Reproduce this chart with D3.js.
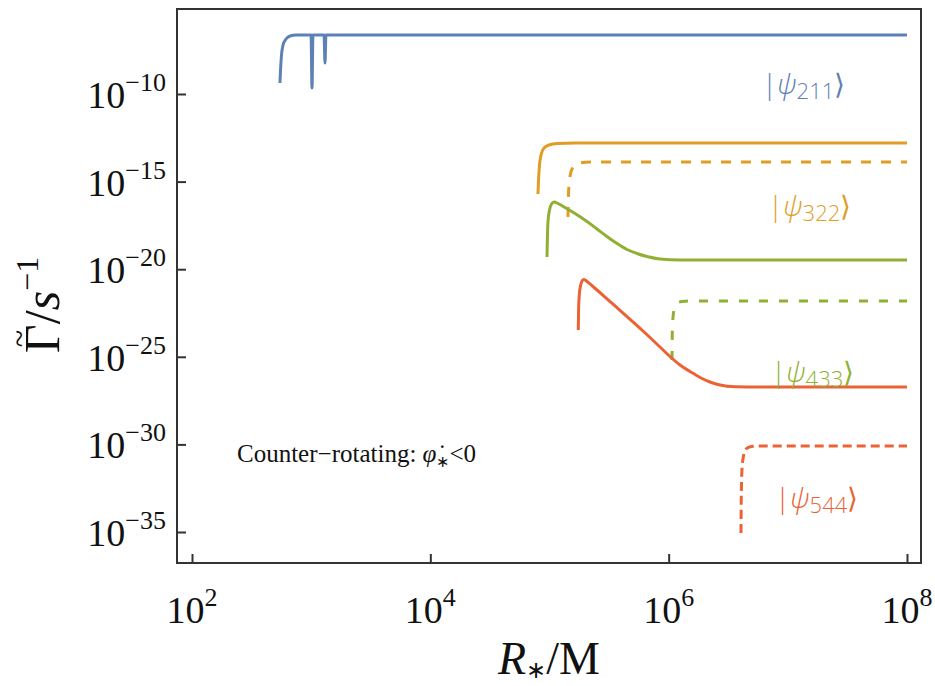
<!DOCTYPE html>
<html><head><meta charset="utf-8">
<script src="https://cdn.jsdelivr.net/npm/d3@7"></script>
<style>body{margin:0;background:#fff}</style>
</head><body>
<svg id="chart" width="935" height="686"></svg>
<script>
// ---- data, stored as log10 values ----
const xTickExponents = [2, 4, 6, 8];
const yTickExponents = [-10, -15, -20, -25, -30, -35];

// |psi_211>  solid blue
const blueLogR = [2.738, 2.743, 2.751, 2.764, 2.789, 2.822, 2.873, 2.999, 3.007, 3.015, 3.108, 3.116, 3.124, 8.0];
const blueLogG = [-9.372, -8.630, -7.774, -7.203, -6.861, -6.689, -6.632, -6.632, -9.658, -6.632, -6.632, -8.231, -6.632, -6.632];

// |psi_322>  solid orange
const orangeLogR = [4.903, 4.908, 4.916, 4.929, 4.954, 4.996, 5.063, 5.214, 8.0];
const orangeLogG = [-15.708, -14.909, -14.053, -13.482, -13.082, -12.911, -12.825, -12.797, -12.797];
// |psi_322>  dashed orange
const orangeDashLogR = [5.155, 5.159, 5.168, 5.180, 5.206, 5.247, 5.340, 8.0];
const orangeDashLogG = [-17.021, -15.765, -14.909, -14.452, -14.110, -13.938, -13.881, -13.881];

// |psi_433>  solid green
const greenLogR = [4.979, 4.982, 4.987, 5.000, 5.017, 5.038, 5.071, 5.130, 5.214, 5.315, 5.399, 5.482, 5.566, 5.650, 5.734, 5.818, 5.927, 6.095, 8.0];
const greenLogG = [-19.304, -18.333, -17.306, -16.621, -16.279, -16.164, -16.250, -16.478, -16.821, -17.278, -17.706, -18.134, -18.533, -18.876, -19.104, -19.276, -19.418, -19.475, -19.475];
// |psi_433>  dashed green
const greenDashLogR = [6.028, 6.030, 6.036, 6.049, 6.070, 6.112, 6.179, 8.0];
const greenDashLogG = [-25.183, -23.756, -22.785, -22.215, -21.929, -21.844, -21.815, -21.815];

// |psi_544>  solid red
const redLogR = [5.2416, 5.244, 5.250, 5.260, 5.273, 5.289, 5.315, 5.365, 5.508, 5.650, 5.785, 5.927, 6.011, 6.095, 6.179, 6.263, 6.347, 6.431, 6.557, 6.766, 8.0];
const redLogG = [-23.470, -22.329, -21.473, -20.959, -20.674, -20.588, -20.702, -20.988, -21.844, -22.700, -23.527, -24.441, -24.983, -25.468, -25.839, -26.182, -26.438, -26.610, -26.707, -26.724, -26.724];
// |psi_544>  dashed red
const redDashLogR = [6.607, 6.609, 6.615, 6.628, 6.649, 6.691, 6.766, 8.0];
const redDashLogG = [-35.057, -33.174, -31.461, -30.662, -30.263, -30.120, -30.091, -30.091];

const stateLabels = ["211", "322", "433", "544"];
const colors = ["#5E81B5", "#E19C24", "#8FB032", "#EB6235"];

// ---- chart ----
const svg = d3.select("#chart");
const plot = {left: 177, right: 921, top: 9, bottom: 563};

const x = d3.scaleLog().domain([1e2, 1e8]).range([192, 907]);
const y = d3.scaleLog().domain([1e-10, 1e-35]).range([94, 532]);

const series = [
  {r: blueLogR, g: blueLogG, color: colors[0], dash: null},
  {r: orangeLogR, g: orangeLogG, color: colors[1], dash: null},
  {r: orangeDashLogR, g: orangeDashLogG, color: colors[1], dash: "10,10"},
  {r: greenLogR, g: greenLogG, color: colors[2], dash: null},
  {r: greenDashLogR, g: greenDashLogG, color: colors[2], dash: "9,11"},
  {r: redLogR, g: redLogG, color: colors[3], dash: null},
  {r: redDashLogR, g: redDashLogG, color: colors[3], dash: "9,5"}
];

const line = d3.line()
  .x(d => x(Math.pow(10, d[0])))
  .y(d => y(Math.pow(10, d[1])))
  .curve(d3.curveMonotoneX);

svg.append("defs").append("clipPath").attr("id", "clip")
  .append("rect").attr("x", plot.left).attr("y", plot.top)
  .attr("width", plot.right - plot.left).attr("height", plot.bottom - plot.top);

const lines = svg.append("g").attr("clip-path", "url(#clip)");
series.forEach(s => {
  const pts = s.r.map((v, i) => [v, s.g[i]]);
  lines.append("path")
    .attr("d", line(pts))
    .attr("fill", "none")
    .attr("stroke", s.color)
    .attr("stroke-width", 3)
    .attr("stroke-linejoin", "round")
    .attr("stroke-dasharray", s.dash);
});

// frame
svg.append("rect")
  .attr("x", plot.left).attr("y", plot.top)
  .attr("width", plot.right - plot.left).attr("height", plot.bottom - plot.top)
  .attr("fill", "none").attr("stroke", "#333").attr("stroke-width", 2);

// axes ticks (inward)
const yAxis = svg.append("g").attr("transform", `translate(${plot.left},0)`)
  .call(d3.axisLeft(y).tickValues(yTickExponents.map(e => Math.pow(10, e))).tickSize(-9).tickFormat(""));
const xAxis = svg.append("g").attr("transform", `translate(0,${plot.bottom})`)
  .call(d3.axisBottom(x).tickValues(xTickExponents.map(e => Math.pow(10, e))).tickSize(-9).tickFormat(""));
[yAxis, xAxis].forEach(a => {
  a.select(".domain").remove();
  a.selectAll("line").attr("stroke", "#333").attr("stroke-width", 2);
});

const serif = "'Liberation Serif', 'Times New Roman', serif";

// y tick labels
yTickExponents.forEach(e => {
  const t = svg.append("text")
    .attr("x", 166).attr("y", y(Math.pow(10, e)) + 14)
    .attr("text-anchor", "end")
    .attr("font-family", serif).attr("font-size", 38).attr("fill", "#111");
  t.append("tspan").text("10");
  t.append("tspan").attr("dy", -17).attr("font-size", 26).text("\u2212" + Math.abs(e));
});

// x tick labels
xTickExponents.forEach(e => {
  const t = svg.append("text")
    .attr("x", x(Math.pow(10, e))).attr("y", 623)
    .attr("text-anchor", "middle")
    .attr("font-family", serif).attr("font-size", 38).attr("fill", "#111");
  t.append("tspan").text("10");
  t.append("tspan").attr("dy", -17).attr("font-size", 26).text(String(e));
});

// x axis title
{
  const t = svg.append("text")
    .attr("x", (plot.left + plot.right) / 2).attr("y", 674)
    .attr("text-anchor", "middle")
    .attr("font-family", serif).attr("font-size", 46).attr("fill", "#111");
  t.append("tspan").attr("font-style", "italic").text("R");
  t.append("tspan").attr("dy", 4).attr("font-size", 24).text("\u2217");
  t.append("tspan").attr("dy", -4).text("/M");
}

// y axis title (rotated); tilde placed over Gamma
{
  const cy = 305;
  const g = svg.append("g").attr("transform", `translate(59,${cy}) rotate(-90)`);
  const t = g.append("text")
    .attr("x", 0).attr("y", 0)
    .attr("font-family", serif).attr("font-size", 50).attr("fill", "#111");
  const gam = t.append("tspan").text("\u0393");
  t.append("tspan").text("/");
  t.append("tspan").attr("font-style", "italic").text("s");
  t.append("tspan").attr("dy", -21).attr("font-size", 32).text("\u22121");
  const total = t.node().getComputedTextLength();
  const gw = gam.node().getComputedTextLength();
  t.attr("x", -total / 2);
  g.append("text")
    .attr("x", -total / 2 + gw / 2).attr("y", -29)
    .attr("text-anchor", "middle")
    .attr("font-family", serif).attr("font-size", 32).attr("fill", "#111")
    .text("~");
}

// annotation
{
  const t = svg.append("text")
    .attr("x", 237).attr("y", 462)
    .attr("font-family", serif).attr("font-size", 25).attr("fill", "#111");
  t.append("tspan").text("Counter\u2212rotating: ");
  t.append("tspan").attr("font-style", "italic").text("\u03C6\u0307");
  t.append("tspan").attr("dy", 5).attr("font-size", 16).text("\u2217");
  t.append("tspan").attr("dy", -5).text("<0");
}

// state labels
const labelPos = [[762, 94], [768, 216], [771, 382], [775, 508]];
stateLabels.forEach((s, i) => {
  const t = svg.append("text")
    .attr("x", labelPos[i][0]).attr("y", labelPos[i][1])
    .attr("font-family", "'Open Sans', 'Noto Sans', sans-serif").attr("font-size", 28)
    .attr("font-weight", 300)
    .attr("fill", colors[i]);
  t.append("tspan").text("|");
  t.append("tspan").attr("font-style", "italic").text("\u03C8");
  t.append("tspan").attr("dy", 5).attr("font-size", 22).text(s);
  t.append("tspan").attr("dy", -5).text("\u27E9");
});
</script>
</body></html>
